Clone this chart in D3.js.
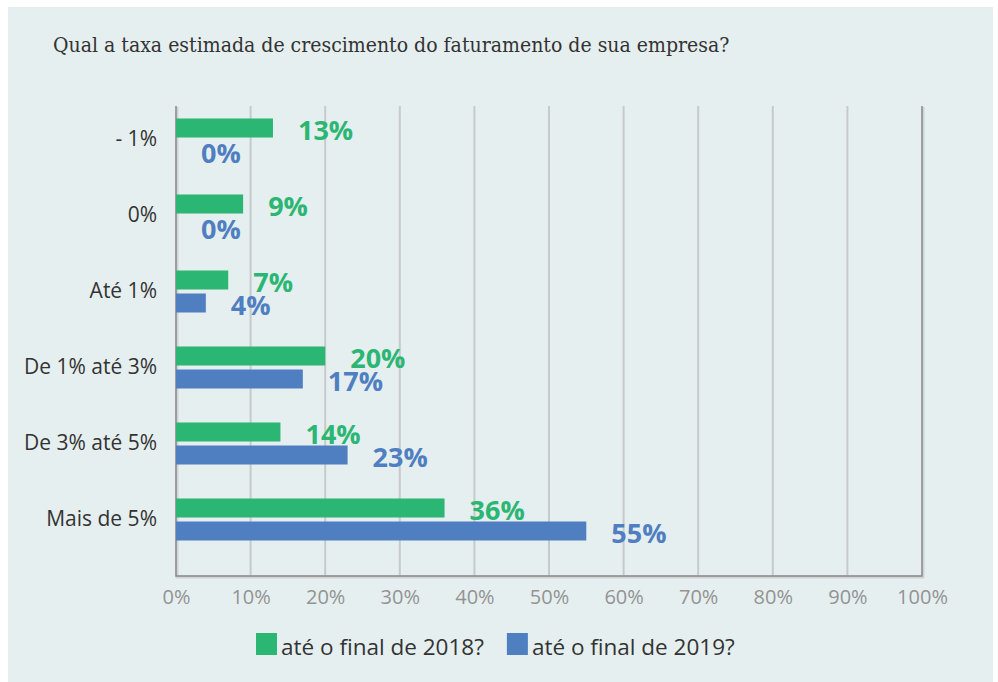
<!DOCTYPE html>
<html>
<head>
<meta charset="utf-8">
<script src="https://cdn.jsdelivr.net/npm/d3@7"></script>
<style>
  html, body { margin: 0; padding: 0; background: #ffffff; }
  svg { display: block; }
</style>
</head>
<body>
<svg id="chart" width="998" height="682"></svg>
<script>
// ---- Data ----
const title = "Qual a taxa estimada de crescimento do faturamento de sua empresa?";
const categories = ["- 1%", "0%", "Até 1%", "De 1% até 3%", "De 3% até 5%", "Mais de 5%"];
const seriesNames = ["até o final de 2018?", "até o final de 2019?"];
const values2018 = [13, 9, 7, 20, 14, 36];
const values2019 = [0, 0, 4, 17, 23, 55];
const xTicks = [0, 10, 20, 30, 40, 50, 60, 70, 80, 90, 100];
const seriesColors = ["#2bb673", "#4f7fc1"];

const seriesValues = [values2018, values2019];

// ---- Layout ----
const W = 998, H = 682;
const plot = { left: 176, right: 922, top: 106, bottom: 576 };

const svg = d3.select("#chart");

// panel background
svg.append("rect")
  .attr("x", 8).attr("y", 7)
  .attr("width", 985).attr("height", H - 7)
  .attr("fill", "#e6eff0");

// title
const titleText = svg.append("text")
  .attr("x", 53).attr("y", 52)
  .attr("font-family", "'DejaVu Serif Condensed', 'DejaVu Serif', serif")
  .attr("font-size", 20)
  .attr("fill", "#333333")
  .text(title);
{
  const target = 677;
  const w = titleText.node().getComputedTextLength();
  titleText.attr("font-size", 20 * target / w);
}

// scales
const x = d3.scaleLinear().domain([0, 100]).range([plot.left, plot.right]);
const y = d3.scaleBand().domain(categories).range([101.5, 557.5]).paddingInner(0);
const ySub = d3.scaleBand().domain([0, 1]).range([-21, 21]).paddingInner(4 / 23);

// gridlines
svg.append("g")
  .selectAll("line")
  .data(xTicks.filter(t => t > 0 && t < 100))
  .join("line")
  .attr("x1", d => x(d)).attr("x2", d => x(d))
  .attr("y1", plot.top).attr("y2", plot.bottom)
  .attr("stroke", "#c6cacb")
  .attr("stroke-width", 2);

// frame: left, bottom, right (darker)
const frame = svg.append("g").attr("fill", "none");
frame.append("path")
  .attr("d", `M${plot.left},${plot.top}V${plot.bottom}H${plot.right}V${plot.top}`)
  .attr("stroke", "#cfd4d5")
  .attr("stroke-width", 3)
  .attr("transform", "translate(1,1)");
frame.append("path")
  .attr("d", `M${plot.left},${plot.top}V${plot.bottom}H${plot.right}V${plot.top}`)
  .attr("stroke", "#8a8a8a")
  .attr("stroke-width", 1.5);

// x axis tick labels via d3 axis
const xAxis = d3.axisBottom(x)
  .tickValues(xTicks)
  .tickFormat(d => d + "%")
  .tickSize(0)
  .tickPadding(14);
const gx = svg.append("g")
  .attr("transform", `translate(0,${plot.bottom})`)
  .call(xAxis);
gx.select(".domain").remove();
gx.selectAll("text")
  .attr("font-family", "'Open Sans', sans-serif")
  .attr("font-size", 20)
  .attr("fill", "#939393");

// y axis labels via d3 axis
const yAxis = d3.axisLeft(y).tickSize(0).tickPadding(19);
const gy = svg.append("g")
  .attr("transform", `translate(${plot.left},0)`)
  .call(yAxis);
gy.select(".domain").remove();
gy.selectAll("text")
  .attr("font-family", "'Open Sans', sans-serif")
  .attr("font-size", 21)
  .attr("fill", "#333333");

// bars
const groups = svg.append("g")
  .selectAll("g")
  .data(categories)
  .join("g")
  .attr("transform", d => `translate(0,${y(d) + y.bandwidth() / 2})`);

groups.each(function (cat, ci) {
  const g = d3.select(this);
  seriesValues.forEach((vals, si) => {
    const v = vals[ci];
    g.append("rect")
      .attr("x", x(0))
      .attr("y", ySub(si))
      .attr("width", x(v) - x(0))
      .attr("height", ySub.bandwidth())
      .attr("fill", seriesColors[si]);
  });
});

// value labels (drawn after bars)
groups.each(function (cat, ci) {
  const g = d3.select(this);
  seriesValues.forEach((vals, si) => {
    const v = vals[ci];
    g.append("text")
      .attr("x", x(v) + 25)
      .attr("y", ySub(si) + ySub.bandwidth() / 2 + 1)
      .attr("dominant-baseline", "central")
      .attr("font-family", "'Open Sans', sans-serif")
      .attr("font-weight", 700)
      .attr("font-size", 27)
      .attr("fill", seriesColors[si])
      .text(v + "%");
  });
});

// legend
const legend = svg.append("g");
let lx = 256;
seriesNames.forEach((name, i) => {
  legend.append("rect")
    .attr("x", lx).attr("y", 633)
    .attr("width", 21).attr("height", 22)
    .attr("fill", seriesColors[i]);
  const t = legend.append("text")
    .attr("x", lx + 25).attr("y", 646)
    .attr("dominant-baseline", "central")
    .attr("font-family", "'Open Sans', sans-serif")
    .attr("font-size", 22.5)
    .attr("fill", "#333333")
    .text(name);
  lx = lx + 25 + t.node().getComputedTextLength() + 23;
});
</script>
</body>
</html>
